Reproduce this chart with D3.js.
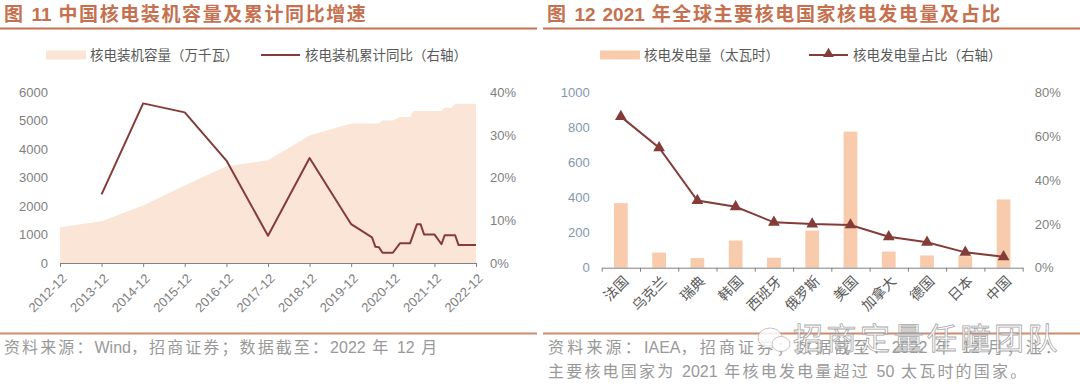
<!DOCTYPE html>
<html>
<head>
<meta charset="utf-8">
<script src="https://cdn.jsdelivr.net/npm/d3@7"></script>
<style>
body { margin: 0; background: #fff; }
svg { display: block; font-family: "Liberation Sans", Arial, "Noto Sans CJK SC", sans-serif; }
.cjk { font-family: "Noto Sans CJK SC", sans-serif; }
.mix { font-family: "Liberation Sans", "Noto Sans CJK SC", sans-serif; }
</style>
</head>
<body>
<svg id="chart" width="1080" height="386"></svg>
<script>
// ---- left chart data: installed capacity (10k kW) and cumulative yoy (%)
const capDates = ["2012-12", "2013-12", "2014-12", "2015-12", "2016-12", "2017-12", "2018-12", "2019-12",
    "2020-08", "2020-09", "2020-12", "2021-02", "2021-05", "2021-06", "2022-02", "2022-03", "2022-05", "2022-06", "2022-12"];
const capValues = [1260, 1470, 2020, 2720, 3400, 3610, 4480, 4900,
    4900, 5010, 5010, 5130, 5130, 5340, 5340, 5460, 5460, 5600, 5600];

const yoyDates = ["2013-12", "2014-12", "2015-12", "2016-12", "2017-12", "2018-12", "2019-12",
    "2020-06", "2020-07", "2020-08", "2020-09", "2020-12", "2021-02", "2021-05", "2021-07", "2021-08",
    "2021-09", "2021-12", "2022-02", "2022-03", "2022-06", "2022-07", "2022-12"];
const yoyValues = [16.1, 37.4, 35.3, 24.0, 6.4, 24.6, 9.1,
    6.0, 3.8, 3.7, 2.4, 2.4, 4.6, 4.6, 9.1, 9.1,
    6.7, 6.7, 4.4, 6.5, 6.5, 4.2, 4.2];

const yearTicks = ["2012-12", "2013-12", "2014-12", "2015-12", "2016-12", "2017-12",
    "2018-12", "2019-12", "2020-12", "2021-12", "2022-12"];
const capTicks = [0, 1000, 2000, 3000, 4000, 5000, 6000];
const yoyTicks = [0, 10, 20, 30, 40];

// ---- right chart data: 2021 nuclear generation (TWh) and share (%)
const countries = ["法国", "乌克兰", "瑞典", "韩国", "西班牙", "俄罗斯", "美国", "加拿大", "德国", "日本", "中国"];
const genValues = [368, 86, 55, 155, 57, 212, 776, 92, 70, 66, 389];
const shareValues = [68.9, 54.7, 30.6, 27.8, 20.7, 19.9, 19.5, 14.1, 11.6, 7.0, 5.0];
const genTicks = [0, 200, 400, 600, 800, 1000];
const shareTicks = [0, 20, 40, 60, 80];

// colours
const titleColor = "#c5714f";
const lineColor = "#843c39";
const areaColor = "#fbe5d6";
const barColor = "#f8cbad";
const axisColor = "#808080";
const labelColor = "#7f7f7f";

const svg = d3.select("#chart");
const parse = d3.timeParse("%Y-%m");

// text where only the CJK runs get extra spacing, latin/digits stay tight
function spacedText(sel, text, ls) {
    text.split(/([A-Za-z0-9]+)/).filter(s => s.length).forEach(part => {
        const latin = /^[A-Za-z0-9]+$/.test(part);
        sel.append("tspan").attr("letter-spacing", latin ? 0 : ls).text(part);
    });
    return sel;
}

// ---- titles, rules, footers
function header(x0, x1, text) {
    const t = svg.append("text").attr("class", "mix")
        .attr("x", x0 + 4).attr("y", 21)
        .attr("font-size", 19).attr("font-weight", "bold")
        .attr("fill", titleColor);
    spacedText(t, text, 1.6);
    svg.append("line").attr("x1", x0).attr("x2", x1)
        .attr("y1", 28.5).attr("y2", 28.5)
        .attr("stroke", titleColor).attr("stroke-width", 2);
    svg.append("line").attr("x1", x0).attr("x2", x1)
        .attr("y1", 333.5).attr("y2", 333.5)
        .attr("stroke", "#d08a6c").attr("stroke-width", 2);
}
header(0, 537, "图 11 中国核电装机容量及累计同比增速");
header(543, 1080, "图 12 2021 年全球主要核电国家核电发电量及占比");

function footer(x, y, text, ls) {
    const t = svg.append("text").attr("class", "mix")
        .attr("x", x).attr("y", y)
        .attr("font-size", 16)
        .attr("fill", "#999");
    spacedText(t, text, ls);
}
footer(4, 353, "资料来源：Wind，招商证券；数据截至：2022 年 12 月", 2.1);
footer(548, 353, "资料来源：IAEA，招商证券；数据截至：2022 年 12 月；注：", 3.2);
footer(548, 377, "主要核电国家为 2021 年核电发电量超过 50 太瓦时的国家。", 2.2);

// ---- legends
function legendArea(x, text, color, h) {
    svg.append("rect").attr("x", x).attr("y", 55 - h / 2).attr("width", 40).attr("height", h).attr("fill", color);
    svg.append("text").attr("class", "cjk").attr("x", x + 44).attr("y", 55).attr("dy", "0.35em")
        .attr("font-size", 13.5).attr("fill", "#595959").text(text);
}
function legendLine(x, text, marker) {
    svg.append("line").attr("x1", x).attr("x2", x + 39).attr("y1", 55).attr("y2", 55)
        .attr("stroke", lineColor).attr("stroke-width", 2);
    if (marker) {
        svg.append("path").attr("d", d3.symbol(d3.symbolTriangle, 50)())
            .attr("transform", `translate(${x + 19.5},54)`).attr("fill", lineColor);
    }
    svg.append("text").attr("class", "cjk").attr("x", x + 44).attr("y", 55).attr("dy", "0.35em")
        .attr("font-size", 13.5).attr("fill", "#595959").text(text);
}
legendArea(46, "核电装机容量（万千瓦）", areaColor, 9);
legendLine(261, "核电装机累计同比（右轴）", false);
legendArea(600, "核电发电量（太瓦时）", barColor, 9);
legendLine(809, "核电发电量占比（右轴）", true);

// ================= left chart =================
const x1 = d3.scaleTime().domain([parse("2012-12"), parse("2022-12")]).range([60, 476]);
const yCap = d3.scaleLinear().domain([0, 6000]).range([263, 92.3]);
const yYoy = d3.scaleLinear().domain([0, 40]).range([263, 92.3]);

const capData = capDates.map((d, i) => ({ date: parse(d), value: capValues[i] }));
const yoyData = yoyDates.map((d, i) => ({ date: parse(d), value: yoyValues[i] }));

svg.append("path")
    .datum(capData)
    .attr("fill", areaColor)
    .attr("d", d3.area().x(d => x1(d.date)).y0(yCap(0)).y1(d => yCap(d.value)));

svg.append("path")
    .datum(yoyData)
    .attr("fill", "none")
    .attr("stroke", lineColor)
    .attr("stroke-width", 2)
    .attr("stroke-linejoin", "round")
    .attr("d", d3.line().x(d => x1(d.date)).y(d => yYoy(d.value)));

function styleAxis(g) {
    g.selectAll("text").attr("fill", labelColor).attr("font-size", 13);
    g.selectAll("line").attr("stroke", axisColor);
    g.select(".domain").attr("stroke", axisColor);
}

svg.append("g")
    .attr("transform", "translate(60,0)")
    .call(d3.axisLeft(yCap).tickValues(capTicks).tickSize(0).tickPadding(12).tickFormat(d3.format("d")))
    .call(g => g.select(".domain").remove())
    .call(styleAxis);

svg.append("g")
    .attr("transform", "translate(476,0)")
    .call(d3.axisRight(yYoy).tickValues(yoyTicks).tickSize(0).tickPadding(14).tickFormat(d => d + "%"))
    .call(g => g.select(".domain").remove())
    .call(styleAxis);

svg.append("g")
    .attr("transform", "translate(0,263)")
    .call(d3.axisBottom(x1).tickValues(yearTicks.map(parse)).tickSize(4).tickSizeOuter(0)
        .tickFormat(d3.timeFormat("%Y-%m")))
    .call(styleAxis)
    .call(g => g.selectAll("text")
        .attr("text-anchor", "end")
        .attr("x", 0).attr("y", 0).attr("dy", "0.35em")
        .attr("transform", "translate(4,13) rotate(-45)"));

// ================= right chart =================
const x2 = d3.scaleBand().domain(countries).range([601.7, 1022.7]).padding(0);
const yGen = d3.scaleLinear().domain([0, 1000]).range([267.7, 92.3]);
const yShare = d3.scaleLinear().domain([0, 80]).range([267.7, 92.3]);
const barW = x2.bandwidth() * 0.36;

svg.append("g")
    .selectAll("rect")
    .data(countries)
    .join("rect")
    .attr("x", (d, i) => x2(d) + (x2.bandwidth() - barW) / 2)
    .attr("y", (d, i) => yGen(genValues[i]))
    .attr("width", barW)
    .attr("height", (d, i) => yGen(0) - yGen(genValues[i]))
    .attr("fill", barColor);

svg.append("path")
    .datum(countries)
    .attr("fill", "none")
    .attr("stroke", lineColor)
    .attr("stroke-width", 2)
    .attr("d", d3.line().x(d => x2(d) + x2.bandwidth() / 2).y((d, i) => yShare(shareValues[i])));

svg.append("g")
    .selectAll("path")
    .data(countries)
    .join("path")
    .attr("d", d3.symbol(d3.symbolTriangle, 60)())
    .attr("transform", (d, i) => `translate(${x2(d) + x2.bandwidth() / 2},${yShare(shareValues[i])})`)
    .attr("fill", lineColor);

svg.append("g")
    .attr("transform", "translate(601.7,0)")
    .call(d3.axisLeft(yGen).tickValues(genTicks).tickSize(0).tickPadding(12).tickFormat(d3.format("d")))
    .call(g => g.select(".domain").remove())
    .call(styleAxis)
    .call(g => g.selectAll("text").attr("fill", "#8497b0"));

svg.append("g")
    .attr("transform", "translate(1022.7,0)")
    .call(d3.axisRight(yShare).tickValues(shareTicks).tickSize(0).tickPadding(12).tickFormat(d => d + "%"))
    .call(g => g.select(".domain").remove())
    .call(styleAxis);

// tick marks at band boundaries
const bounds = countries.map(d => x2(d)).concat([x2.range()[1]]);
svg.append("g")
    .attr("transform", "translate(0,267.7)")
    .call(d3.axisBottom(d3.scaleLinear().domain([601.7, 1022.7]).range([601.7, 1022.7]))
        .tickValues(bounds).tickSize(4).tickSizeOuter(0).tickFormat(""))
    .call(styleAxis);

// category labels
svg.append("g")
    .attr("transform", "translate(0,267.7)")
    .call(d3.axisBottom(x2).tickSize(0).tickSizeOuter(0))
    .call(g => g.select(".domain").remove())
    .call(styleAxis)
    .call(g => g.selectAll("text")
        .attr("class", "cjk")
        .attr("font-size", 14)
        .attr("fill", "#595959")
        .attr("text-anchor", "end")
        .attr("x", 0).attr("y", 0).attr("dy", "0.35em")
        .attr("transform", "translate(5,11) rotate(-45)"));

// ---- watermark
const wm = svg.append("g").attr("opacity", 0.85);
wm.append("ellipse").attr("cx", 770).attr("cy", 338).attr("rx", 12).attr("ry", 10)
    .attr("fill", "#fff").attr("stroke", "#bbb");
wm.append("ellipse").attr("cx", 781).attr("cy", 344).attr("rx", 9).attr("ry", 7.5)
    .attr("fill", "#fff").attr("stroke", "#bbb");
wm.append("text").attr("class", "cjk")
    .attr("x", 793).attr("y", 349)
    .attr("font-size", 30).attr("letter-spacing", 3.5)
    .attr("fill", "#fff").attr("stroke", "#999").attr("stroke-width", 0.8)
    .text("招商定量任瞳团队");
</script>
</body>
</html>
